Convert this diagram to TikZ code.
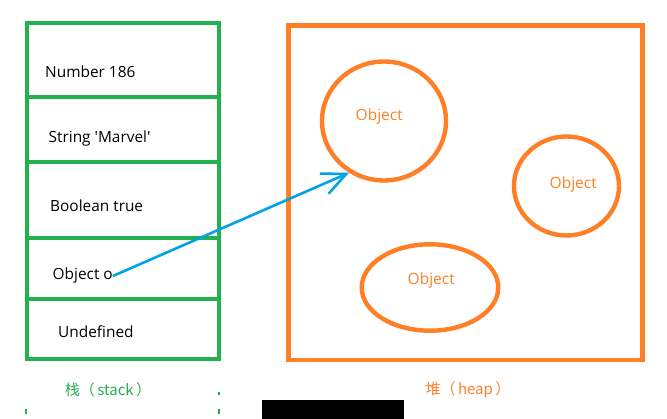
\documentclass[tikz,border=0pt]{standalone}
\usepackage{fontspec}
\setmainfont{Open Sans}
\newfontfamily\cjk{Noto Sans CJK SC}
\usetikzlibrary{shapes.geometric,arrows.meta}
\definecolor{pgreen}{RGB}{34,177,76}
\definecolor{porange}{RGB}{255,127,39}
\definecolor{pblue}{RGB}{0,162,232}
\newcommand{\straightq}{\XeTeXglyph\XeTeXcharglyph"0027\relax}
\tikzset{
  cell/.style={draw=pgreen, line width=4.8pt, minimum width=192pt, inner sep=0pt},
  celltext/.style={anchor=base west, inner sep=0pt, font=\fontsize{15.4}{18}\selectfont, text=black},
  obj/.style={ellipse, draw=porange, line width=4.4pt, inner sep=0pt},
  objtext/.style={anchor=base west, inner sep=0pt, font=\fontsize{15.5}{18}\selectfont, text=porange},
  heapbox/.style={draw=porange, line width=4.6pt, inner sep=0pt},
  ptr/.style={draw=pblue, line width=2.6pt, -{Straight Barb[length=24pt,width=22pt,line width=2.6pt]}},
  caption/.style={inner sep=0pt, font=\cjk\fontsize{15}{17}\selectfont},
  tick/.style={draw=pgreen, line width=1.5pt}
}
\begin{document}
\begin{tikzpicture}[x=1pt,y=-1pt]
\useasboundingbox (0,0) rectangle (667,419);
% stack cells
\node[cell, minimum height=74pt] (s1) at (123,60) {};
\node[cell, minimum height=65pt] (s2) at (123,129.5) {};
\node[cell, minimum height=76pt] (s3) at (123,200) {};
\node[cell, minimum height=61pt] (s4) at (123,268.5) {};
\node[cell, minimum height=60pt] (s5) at (123,329) {};
% stack texts
\node[celltext] (t1) at (45,78) {Number 186};
\node[celltext] (t2) at (48.5,143) {String \straightq Marvel\straightq};
\node[celltext] (t3) at (50,212) {Boolean true};
\node[celltext] (t4) at (52.5,280) {Object o};
\node[celltext] (t5) at (58,338) {Undefined};
% heap
\node[heapbox, minimum width=354pt, minimum height=334.3pt] (heap) at (465.7,192.85) {};
\node[obj, minimum width=124pt, minimum height=119pt] (o1) at (384,121) {};
\node[obj, minimum width=105pt, minimum height=99pt] (o2) at (566.5,186) {};
\node[obj, minimum width=136.6pt, minimum height=86.4pt] (o3) at (430,287.5) {};
\node[objtext] (l1) at (355.5,121) {Object};
\node[objtext] (l2) at (549.5,189) {Object};
\node[objtext] (l3) at (407.5,285) {Object};
% pointer
\draw[ptr] (t4.east) -- (o1.236);
% captions
\node[caption, text=pgreen] (cs) at (108,390) {栈（\,stack\,）};
\node[caption, text=porange] (ch) at (468,390) {堆（\,heap\,）};
% small marks
\draw[tick] (26,409) -- (26,414);
\draw[tick] (219,392) -- (219,395);
\draw[tick] (219,409) -- (219,414);
% black bar
\fill[black] (262,400) rectangle (404,419);
\end{tikzpicture}
\end{document}
